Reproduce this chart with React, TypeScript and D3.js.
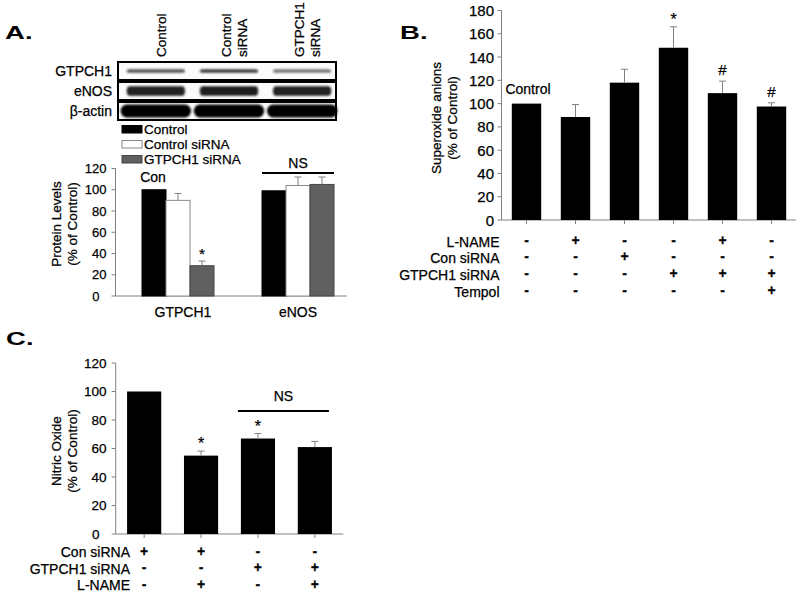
import { useEffect, useRef } from 'react'
import * as d3 from 'd3'

const FONT = '"Liberation Sans", Arial, sans-serif'
const AXIS = '#808080'

// Panel A: western blot + protein levels
const A_LANES = [['Control'], ['Control', 'siRNA'], ['GTPCH1', 'siRNA']]
const A_BLOTS = ['GTPCH1', 'eNOS', 'β-actin']
const A_BLOT_SHADE = [[0.62, 0.72, 0.42], [0.82, 0.86, 0.82], [1, 1, 1]]
const A_GROUPS = ['GTPCH1', 'eNOS']
const A_SERIES = ['Control', 'Control siRNA', 'GTPCH1 siRNA']
const A_MEANS = [[100, 90, 28.5], [99, 104, 105]]
const A_ERRS = [[0, 6.5, 4.4], [0, 8, 7]]
const A_MARKS = [['', '', '*'], ['', '', '']]
const A_TICKS = [0, 20, 40, 60, 80, 100, 120]

// Panel B: superoxide anions
const B_VALUES = [100, 88.5, 118, 148, 109, 97.5]
const B_ERRS = [0, 10.7, 11.5, 18, 10.3, 3.2]
const B_MARKS = ['', '', '', '*', '#', '#']
const B_ROWS = ['L-NAME', 'Con siRNA', 'GTPCH1 siRNA', 'Tempol']
const B_SIGNS = ['-+--+-', '--+---', '---+++', '-----+']
const B_TICKS = [0, 20, 40, 60, 80, 100, 120, 140, 160, 180]

// Panel C: nitric oxide
const C_VALUES = [100, 55, 67, 61]
const C_ERRS = [0, 3.2, 3.5, 4]
const C_MARKS = ['', '*', '*', '']
const C_ROWS = ['Con siRNA', 'GTPCH1 siRNA', 'L-NAME']
const C_SIGNS = ['++--', '--++', '-+-+']
const C_TICKS = [0, 20, 40, 60, 80, 100, 120]

type G = d3.Selection<SVGGElement, unknown, null, undefined>

function label(g: G, x: number, y: number, s: string, size: number, anchor = 'middle', weight = 'normal') {
  return g.append('text')
    .attr('x', x).attr('y', y)
    .attr('text-anchor', anchor)
    .attr('font-size', size)
    .attr('font-weight', weight)
    .attr('fill', '#000')
    .attr('stroke', '#000')
    .attr('stroke-width', 0.25)
    .text(s)
}

function panelLetter(g: G, x: number, y: number, s: string) {
  g.append('g').attr('transform', `translate(${x},${y}) scale(1.45,1)`)
    .append('text').attr('font-size', 19).attr('font-weight', 'bold').text(s)
}

function yAxis(g: G, y: d3.ScaleLinear<number, number>, x: number, ticks: number[], size: number, labelRight: number, zeroShift: number) {
  g.append('line').attr('x1', x).attr('x2', x).attr('y1', y(0)).attr('y2', y(ticks[ticks.length - 1]))
    .attr('stroke', AXIS)
  ticks.forEach((t) => {
    g.append('line').attr('x1', x - 4).attr('x2', x).attr('y1', y(t)).attr('y2', y(t)).attr('stroke', AXIS)
    label(g, labelRight + (t === 0 ? zeroShift : 0), y(t), String(t), size, 'end')
      .attr('dominant-baseline', 'central')
  })
}

function yTitle(g: G, x: number, cy: number, lines: string[]) {
  lines.forEach((s, i) => {
    const bx = x + i * 16
    label(g, bx, cy, s, 13.5).attr('transform', `rotate(-90,${bx},${cy})`)
  })
}

function errorBar(g: G, cx: number, yTop: number, yErr: number) {
  g.append('line').attr('x1', cx).attr('x2', cx).attr('y1', yTop).attr('y2', yErr).attr('stroke', AXIS)
  g.append('line').attr('x1', cx - 3.5).attr('x2', cx + 3.5).attr('y1', yErr).attr('y2', yErr).attr('stroke', AXIS)
}

export default function App() {
  const ref = useRef<SVGSVGElement | null>(null)

  useEffect(() => {
    if (!ref.current) return
    const svg = d3.select(ref.current)
    svg.selectAll('*').remove()
    svg.append('rect').attr('width', 800).attr('height', 595).attr('fill', '#fff')
    svg.append('defs').append('filter').attr('id', 'blot-blur')
      .attr('x', '-10%').attr('y', '-50%').attr('width', '120%').attr('height', '200%')
      .append('feGaussianBlur').attr('stdDeviation', 0.9)

    const root = svg.append('g') as unknown as G

    // ---------- Panel A ----------
    panelLetter(root, 5, 39, 'A.')

    const laneX = d3.scaleBand<number>().domain([0, 1, 2]).range([120, 338]).paddingInner(0.12).paddingOuter(0.05)
    A_LANES.forEach((lines, i) => {
      const cx = laneX(i)! + laneX.bandwidth() / 2 + 3
      lines.forEach((s, j) => {
        const bx = cx + 7 + (j - (lines.length - 1) / 2) * 16.5
        label(root, bx, 57, s, 13.5, 'start').attr('transform', `rotate(-90,${bx},57)`)
      })
    })

    const blotY = d3.scaleBand<string>().domain(A_BLOTS).range([62, 120]).paddingInner(0.1)
    const blotH = [3.5, 9.5, 13]
    A_BLOTS.forEach((name, r) => {
      const y0 = blotY(name)!
      const bh = blotY.bandwidth()
      const cy = y0 + bh / 2
      label(root, 112, cy + 5, name, 14, 'end')
      root.append('rect').attr('x', 118).attr('y', y0).attr('width', 218).attr('height', bh)
        .attr('fill', '#fbfbfb').attr('stroke', '#000').attr('stroke-width', 2)
      const bands = root.append('g').attr('filter', 'url(#blot-blur)')
      A_BLOT_SHADE[r].forEach((v, i) => {
        const wide = r === 2 ? 6 : 0
        const x0 = laneX(i)! - wide
        const w = laneX.bandwidth() + wide * 2
        const shade = d3.interpolateGreys(0.35 + v * 0.65)
        bands.append('rect').attr('x', x0 + 3).attr('y', cy - blotH[r] / 2).attr('width', w - 6)
          .attr('height', blotH[r]).attr('rx', r === 2 ? 6 : 3).attr('ry', blotH[r] / 2).attr('fill', shade)
      })
    })

    // legend
    A_SERIES.forEach((s, i) => {
      const by = 133.5 + i * 15
      root.append('rect').attr('x', 122).attr('y', by - 8).attr('width', 20).attr('height', 7.5)
        .attr('fill', ['#000', '#fff', '#606060'][i]).attr('stroke', ['#000', '#888', '#444'][i])
      label(root, 144, by, s, 13.5, 'start')
    })

    const yA = d3.scaleLinear().domain([0, 120]).range([296, 168.5])
    const xA = d3.scaleBand<string>().domain(A_GROUPS).range([115, 361]).paddingInner(0.4).paddingOuter(0.225)
    const xAs = d3.scaleBand<string>().domain(A_SERIES).range([0, xA.bandwidth()])
    yAxis(root, yA, 115.5, A_TICKS, 13, 106.5, -7)
    root.append('line').attr('x1', 115.5).attr('x2', 347).attr('y1', yA(0)).attr('y2', yA(0)).attr('stroke', AXIS)
    A_GROUPS.forEach((gname, gi) => {
      const gx = xA(gname)!
      A_SERIES.forEach((s, si) => {
        const x = gx + xAs(s)!
        const v = A_MEANS[gi][si]
        root.append('rect').attr('x', x).attr('y', yA(v)).attr('width', xAs.bandwidth()).attr('height', yA(0) - yA(v))
          .attr('fill', ['#000', '#fff', '#606060'][si]).attr('stroke', ['#000', '#8a8a8a', '#444'][si])
        const cx = x + xAs.bandwidth() / 2
        const e = A_ERRS[gi][si]
        if (e > 0) errorBar(root, cx, yA(v), yA(v + e))
        if (A_MARKS[gi][si]) label(root, cx, yA(v + e) - 2, A_MARKS[gi][si], 15)
      })
      label(root, gx + xA.bandwidth() / 2 + (gi === 0 ? 5 : 0), 316.5, gname, 14)
    })
    label(root, xA('GTPCH1')! + xAs.bandwidth() / 2 - 1, 181.5, 'Con', 14)
    const nsA0 = xA('eNOS')!
    root.append('line').attr('x1', nsA0).attr('x2', nsA0 + xA.bandwidth()).attr('y1', 173).attr('y2', 173)
      .attr('stroke', '#000').attr('stroke-width', 2)
    label(root, nsA0 + xA.bandwidth() / 2, 168, 'NS', 14)
    yTitle(root, 61, 224, ['Protein Levels', '(% of Control)'])

    // ---------- Panel B ----------
    panelLetter(root, 400, 39, 'B.')
    const yB = d3.scaleLinear().domain([0, 180]).range([220, 10.5])
    const xB = d3.scaleBand<number>().domain(d3.range(B_VALUES.length)).range([502, 796]).paddingInner(0.4).paddingOuter(0.2)
    yAxis(root, yB, 501.5, B_TICKS, 15, 494, 0)
    root.append('line').attr('x1', 501.5).attr('x2', 796).attr('y1', yB(0)).attr('y2', yB(0)).attr('stroke', AXIS)
    B_VALUES.forEach((v, i) => {
      const x = xB(i)!
      const cx = x + xB.bandwidth() / 2
      root.append('rect').attr('x', x).attr('y', yB(v)).attr('width', xB.bandwidth()).attr('height', yB(0) - yB(v)).attr('fill', '#000')
      root.append('line').attr('x1', cx).attr('x2', cx).attr('y1', yB(0)).attr('y2', yB(0) + 4).attr('stroke', AXIS)
      if (B_ERRS[i] > 0) errorBar(root, cx, yB(v), yB(v + B_ERRS[i]))
      const m = B_MARKS[i]
      if (m) label(root, cx, yB(v + B_ERRS[i]) - (m === '#' ? 6 : 2), m, m === '#' ? 15 : 16)
      B_ROWS.forEach((_, r) => {
        label(root, cx, 244.7 + r * 16.7, B_SIGNS[r][i], 14, 'middle', 'bold')
      })
    })
    B_ROWS.forEach((s, r) => label(root, 499.5, 246.7 + r * 16.7, s, 14, 'end'))
    label(root, xB(0)! + xB.bandwidth() / 2 + 1.5, 94.3, 'Control', 14)
    yTitle(root, 441, 118, ['Superoxide anions', '(% of Control)'])

    // ---------- Panel C ----------
    panelLetter(root, 6, 345, 'C.')
    const yC = d3.scaleLinear().domain([0, 120]).range([534, 363])
    const xC = d3.scaleBand<number>().domain(d3.range(C_VALUES.length)).range([115.7, 343.3]).paddingInner(0.4).paddingOuter(0.2)
    yAxis(root, yC, 115.7, C_TICKS, 13.5, 106.5, -7)
    root.append('line').attr('x1', 115.7).attr('x2', 343.3).attr('y1', yC(0)).attr('y2', yC(0)).attr('stroke', AXIS)
    C_VALUES.forEach((v, i) => {
      const x = xC(i)!
      const cx = x + xC.bandwidth() / 2
      root.append('rect').attr('x', x).attr('y', yC(v)).attr('width', xC.bandwidth()).attr('height', yC(0) - yC(v)).attr('fill', '#000')
      root.append('line').attr('x1', cx).attr('x2', cx).attr('y1', yC(0)).attr('y2', yC(0) + 4).attr('stroke', AXIS)
      if (C_ERRS[i] > 0) errorBar(root, cx, yC(v), yC(v + C_ERRS[i]))
      if (C_MARKS[i]) label(root, cx, yC(v + C_ERRS[i]) - 2, C_MARKS[i], 16)
      C_ROWS.forEach((_, r) => {
        label(root, cx, 555.8 + r * 16.4, C_SIGNS[r][i], 14, 'middle', 'bold')
      })
    })
    C_ROWS.forEach((s, r) => label(root, 130, 557.3 + r * 16.4, s, 14, 'end'))
    const nsC0 = xC(2)! - 3
    const nsC1 = xC(3)! + xC.bandwidth() - 3
    root.append('line').attr('x1', nsC0).attr('x2', nsC1).attr('y1', 411).attr('y2', 411)
      .attr('stroke', '#000').attr('stroke-width', 2)
    label(root, (nsC0 + nsC1) / 2, 400.7, 'NS', 14)
    yTitle(root, 60.5, 451, ['Nitric Oxide', '(% of Control)'])
  }, [])

  return (
    <svg
      ref={ref}
      width={800}
      height={595}
      style={{ position: 'absolute', left: 0, top: 0, fontFamily: FONT }}
    />
  )
}
